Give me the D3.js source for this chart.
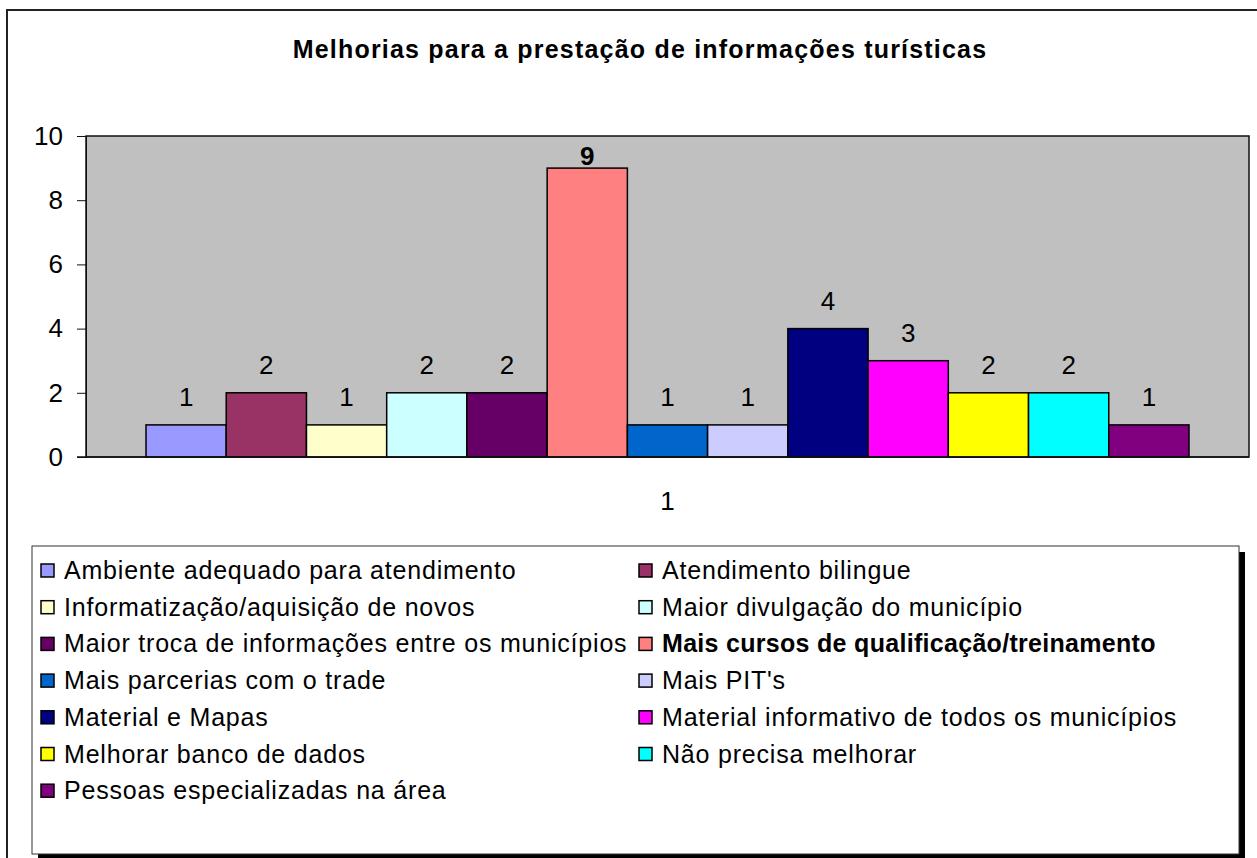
<!DOCTYPE html>
<html>
<head>
<meta charset="utf-8">
<script src="https://cdn.jsdelivr.net/npm/d3@7"></script>
<style>
  body { margin: 0; background: #fff; }
  svg { display: block; font-family: Arial, "Liberation Sans", sans-serif; }
</style>
</head>
<body>
<svg id="chart" width="1257" height="858"></svg>
<script>
    var categories = ["1"],
        series = [
            "Ambiente adequado para atendimento",
            "Atendimento bilingue",
            "Informatização/aquisição de novos",
            "Maior divulgação do município",
            "Maior troca de informações entre os municípios",
            "Mais cursos de qualificação/treinamento",
            "Mais parcerias com o trade",
            "Mais PIT's",
            "Material e Mapas",
            "Material informativo de todos os municípios",
            "Melhorar banco de dados",
            "Não precisa melhorar",
            "Pessoas especializadas na área"
        ],
        values = [1, 2, 1, 2, 2, 9, 1, 1, 4, 3, 2, 2, 1],
        colors = ["#9999FF", "#993366", "#FFFFCC", "#CCFFFF", "#660066", "#FF8080",
                  "#0066CC", "#CCCCFF", "#000080", "#FF00FF", "#FFFF00", "#00FFFF", "#800080"],
        boldSeries = "Mais cursos de qualificação/treinamento",
        yTicks = [0, 2, 4, 6, 8, 10];

    var svg = d3.select("#chart");

    // outer frame of the chart
    svg.append("rect")
        .attr("x", 7).attr("y", 10)
        .attr("width", 1262).attr("height", 870)
        .attr("fill", "#fff")
        .attr("stroke", "#222").attr("stroke-width", 2);

    svg.append("text")
        .attr("x", 640).attr("y", 58)
        .attr("text-anchor", "middle")
        .style("font-size", "25px").style("font-weight", "bold")
        .style("letter-spacing", "1.2px")
        .text("Melhorias para a prestação de informações turísticas");

    var plot = {left: 86, top: 136, right: 1249, bottom: 457};

    var y = d3.scaleLinear().domain([0, 10]).range([plot.bottom, plot.top]);
    var x0 = d3.scaleBand().domain(categories).range([plot.left, plot.right]);
    var x1 = d3.scaleBand().domain(series)
        .range([60, x0.bandwidth() - 60]).paddingInner(0);

    svg.append("rect")
        .attr("x", plot.left).attr("y", plot.top)
        .attr("width", plot.right - plot.left).attr("height", plot.bottom - plot.top)
        .attr("fill", "#C0C0C0")
        .attr("stroke", "#111").attr("stroke-width", 1.5);

    var g = svg.append("g")
        .attr("transform", "translate(" + x0(categories[0]) + ",0)");

    g.selectAll("rect.bar")
        .data(values)
        .enter()
        .append("rect")
        .attr("class", "bar")
        .attr("x", function(d, i){ return x1(series[i]); })
        .attr("y", function(d){ return y(d); })
        .attr("width", x1.bandwidth())
        .attr("height", function(d){ return y(0) - y(d); })
        .attr("fill", function(d, i){ return colors[i]; })
        .attr("stroke", "#000").attr("stroke-width", 1.5);

    g.selectAll("text.val")
        .data(values)
        .enter()
        .append("text")
        .attr("class", "val")
        .attr("x", function(d, i){ return x1(series[i]) + x1.bandwidth() / 2; })
        .attr("y", function(d){ return Math.max(y(d) - 19, plot.top + 29); })
        .attr("text-anchor", "middle")
        .style("font-size", "26px")
        .style("font-weight", function(d, i){ return series[i] == boldSeries ? "bold" : "normal"; })
        .text(function(d){ return d; });

    // y axis
    var yAxis = d3.axisLeft(y).tickValues(yTicks).tickSize(9).tickPadding(14);
    var ya = svg.append("g")
        .attr("transform", "translate(" + plot.left + ",0)")
        .call(yAxis);
    ya.select(".domain").attr("stroke", "#111");
    ya.selectAll(".tick line").attr("stroke", "#111");
    ya.selectAll(".tick text").style("font-size", "26px").attr("fill", "#000")
        .style("font-family", "Arial, 'Liberation Sans', sans-serif");

    // baseline
    svg.append("line")
        .attr("x1", plot.left - 9).attr("x2", plot.right)
        .attr("y1", y(0)).attr("y2", y(0))
        .attr("stroke", "#111").attr("stroke-width", 1.5);

    svg.append("text")
        .attr("x", x0(categories[0]) + x0.bandwidth() / 2).attr("y", 510)
        .attr("text-anchor", "middle")
        .style("font-size", "26px")
        .text(categories[0]);

    // legend
    var legend = {x: 32, y: 546, w: 1207, h: 308};
    svg.append("rect")
        .attr("x", legend.x + 6).attr("y", legend.y + 6)
        .attr("width", legend.w).attr("height", legend.h)
        .attr("fill", "#000");
    svg.append("rect")
        .attr("x", legend.x).attr("y", legend.y)
        .attr("width", legend.w).attr("height", legend.h)
        .attr("fill", "#fff")
        .attr("stroke", "#333").attr("stroke-width", 1);

    var items = svg.selectAll("g.item")
        .data(series)
        .enter()
        .append("g")
        .attr("class", "item")
        .attr("transform", function(d, i){
            var col = i % 2, row = Math.floor(i / 2);
            return "translate(" + (col ? 639 : 41) + "," + (570 + row * 36.7) + ")";
        });

    items.append("rect")
        .attr("x", 0).attr("y", -6)
        .attr("width", 13).attr("height", 13)
        .attr("fill", function(d, i){ return colors[i]; })
        .attr("stroke", "#000").attr("stroke-width", 1.5);

    items.append("text")
        .attr("x", 23).attr("y", 9)
        .style("font-size", "25px")
        .style("letter-spacing", function(d){ return d == boldSeries ? "0.3px" : "0.8px"; })
        .style("font-weight", function(d){ return d == boldSeries ? "bold" : "normal"; })
        .text(function(d){ return d; });
</script>
</body>
</html>
